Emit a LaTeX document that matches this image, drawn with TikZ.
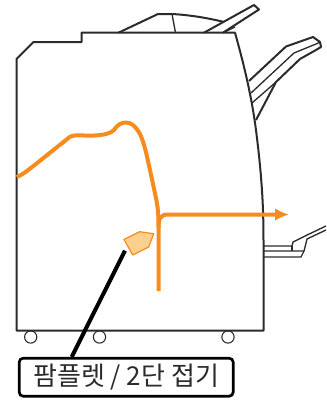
\documentclass[tikz,border=0pt]{standalone}
\usepackage{fontspec}
\newfontfamily\cjk{Noto Sans CJK KR}
\usetikzlibrary{arrows.meta}
\definecolor{body}{HTML}{2B2B2B}
\definecolor{paperpath}{HTML}{F68B1F}
\definecolor{sheet}{HTML}{FDD08F}
\tikzset{
  x=0.75pt, y=-0.75pt,
  outline/.style={draw=body, line width=1.5pt, line join=round},
  thin part/.style={draw=body, line width=1pt, line join=round},
  wheel/.style={circle, draw=body, fill=white, line width=0.8pt, inner sep=0pt, minimum size=9.2pt},
  feed/.style={draw=paperpath, line width=3pt, line join=round},
  leader/.style={draw=black, line width=3pt},
  tag/.style={draw=black, fill=white, line width=2pt, rounded corners=3pt, minimum width=160.5pt, minimum height=28.5pt, inner sep=0pt, font=\cjk\fontsize{19.5}{21}\selectfont, text=body},
}
\begin{document}
\begin{tikzpicture}
\useasboundingbox (0,0) rectangle (326,401);

% wheels
\node[wheel] (wheelA) at (30.7,337) {};
\node[wheel] (wheelB) at (99.5,337) {};
\node[wheel] (wheelC) at (228,337) {};

% machine body
\draw[outline] (16.5,59) -- (33.5,42) -- (81.5,42) -- (81.5,32.7) -- (235,32.7)
  .. controls (246,72) and (252,100) .. (256,130)
  .. controls (261,170) and (263.5,200) .. (263.5,240) -- (263.5,330.7) -- (16.5,330.7) -- cycle;

% top tray
\draw[outline] (118.5,32.7) -- (158,14) -- (172,14) .. controls (190,15) and (208,18) .. (224,22);
\draw[thin part] (172,14) -- (175.5,32.7);
\draw[outline] (204,32.7) -- (254,5) -- (259,9.5) -- (223,32.7);
\draw[thin part] (223,32.7) -- (235,27);

% side tray
\draw[outline] (249,81) -- (286,46.5) -- (313,37) -- (320,42) -- (321,47) -- (316,50) -- (300,59) -- (276,82) -- (256,120);
\draw[thin part] (251,93) -- (294,53) -- (316,44) -- (320,42);
\draw[thin part] (252,103) -- (276,82);

% lower tray
\draw[thin part] (263.5,246) -- (292,246) -- (293,242) -- (305,236) -- (326,226);
\draw[thin part] (263.5,251) -- (304,251) -- (307,239) -- (326,230);
\draw[thin part] (292,246) -- (292,251);
\draw[thin part] (263.5,257) -- (301,257) -- (304,251);

% paper path
\draw[feed] (16.7,177) .. controls (24,174) and (28,170) .. (34,165.5) -- (66,140)
  .. controls (70,136) and (73,135) .. (80,135.3)
  .. controls (92,136) and (108,136) .. (114,130)
  .. controls (118,124) and (122,122.5) .. (126,122.5)
  .. controls (132,122.5) and (136,127) .. (140,134)
  .. controls (145,145) and (147,157) .. (150,170)
  -- (156,198) .. controls (158,208) and (158.5,215) .. (158.5,225) -- (158.5,291);
\draw[feed, -{Latex[length=10.5pt,width=9.5pt]}] (158.5,228) .. controls (158.5,218) and (161,214.5) .. (168,214.5) -- (289,214.5);

% sheet
\draw[draw=paperpath, fill=sheet, line width=0.9pt, line join=round] (124,239.5) -- (139.5,231.7) -- (153.7,233.7) -- (148.7,247) -- (132.7,255) -- cycle;

% label
\node[tag] (label) at (126.2,377.2) {팜플렛 / 2단 접기};
\coordinate (leaderend) at (125,250.7);
\draw[leader] (leaderend) -- (label.north -| 71.7,0);
\end{tikzpicture}
\end{document}
